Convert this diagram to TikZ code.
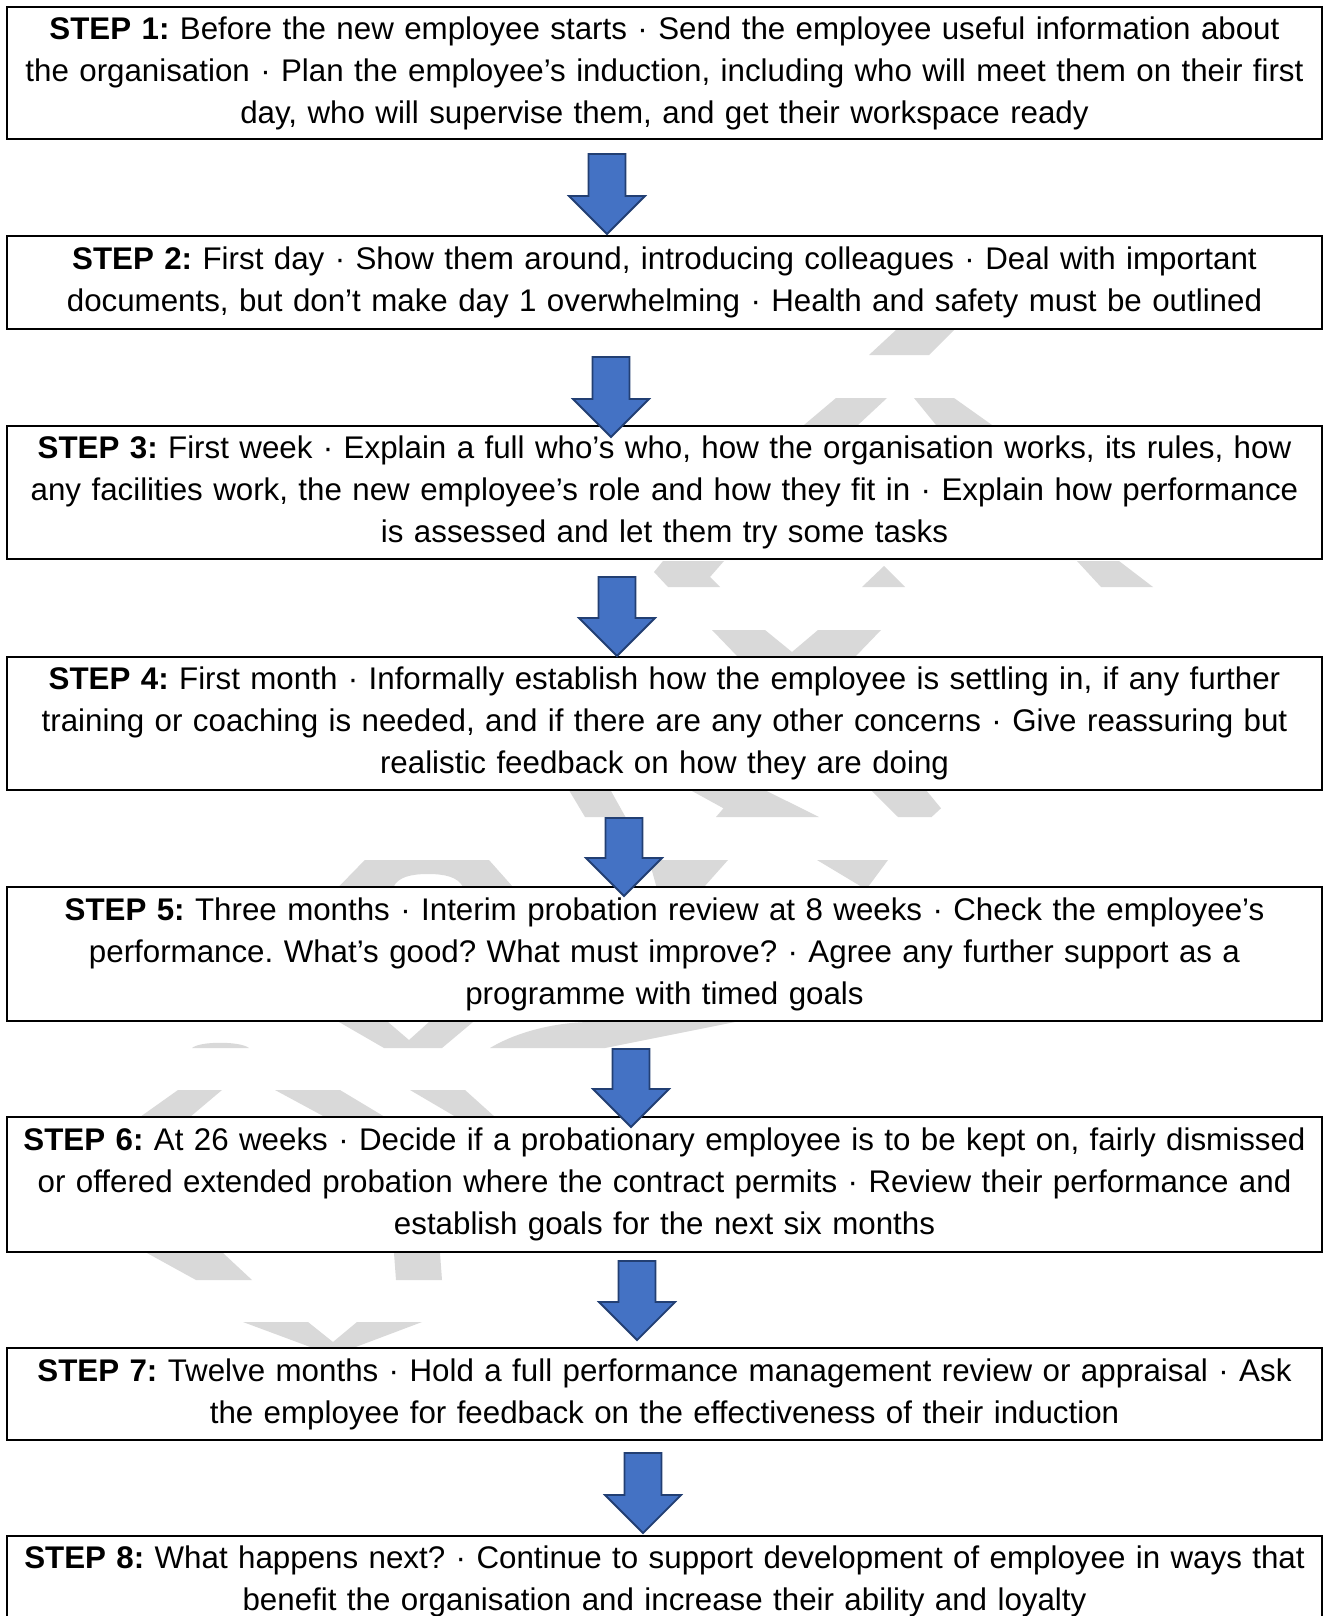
\documentclass[tikz,border=0pt]{standalone}
\usepackage{fontspec}
\setmainfont{Liberation Sans}
\frenchspacing
\definecolor{wm}{HTML}{D9D9D9}
\definecolor{arrfill}{HTML}{4472C4}
\definecolor{arredge}{HTML}{223F73}
\newcommand\mydnarrow[4]{% name, centre x, top y, tip y
  \coordinate (#1) at (#2,#3);
  \draw[blockarr] (#2-18.5,#3) -- (#2+18.5,#3) -- (#2+18.5,#4-38) -- (#2+38,#4-38)
    -- (#2,#4) -- (#2-38,#4-38) -- (#2-18.5,#4-38) -- cycle;}
\begin{document}
\begin{tikzpicture}[x=1pt,y=-1pt,
  stepbox/.style={draw=black, line width=2pt, fill=white, minimum width=1315pt,
    text width=1310pt, align=center, inner sep=0pt, font=\fontsize{31.3}{42}\selectfont\frenchspacing},
  blockarr/.style={fill=arrfill, draw=arredge, line width=1.8pt, line join=miter},
  wmark/.style={fill=wm, draw=none}]
\useasboundingbox (0,0) rectangle (1325,1616);
\clip (0,0) rectangle (1325,1616);
\fill[white] (0,0) rectangle (1325,1616);
% watermark fragments
\fill[wmark] (896,330) -- (954,330) -- (929,355) -- (869,355) -- cycle;
\fill[wmark] (836,398) -- (887,398) -- (858,425) -- (804,425) -- cycle;
\fill[wmark] (914,398) -- (954,398) -- (992,425) -- (936,425) -- cycle;
\fill[wmark] (654,572) -- (663,561) -- (724,561) -- (710,577) -- (720,587) -- (668,587) -- cycle;
\fill[wmark] (884,566) -- (905,587) -- (862,587) -- cycle;
\fill[wmark] (1077,561) -- (1119,561) -- (1153,587) -- (1101,587) -- cycle;
\fill[wmark] (712,630) -- (765,630) -- (792,652) -- (818,630) -- (881,630) -- (855,657) -- (738,657) -- cycle;
\fill[wmark] (569.5,791) -- (611,791) -- (625.5,817) -- (585,817) -- cycle;
\fill[wmark] (692,791) -- (766.6,791) -- (819,817) -- (716,817) -- (723.5,808.3) -- cycle;
\fill[wmark] (871.8,791) -- (926.8,791) -- (941,808.3) -- (931.6,817) -- (898,817) -- cycle;
\fill[wmark] (338.5,887) -- (364.8,860) -- (489,860) -- (513,887) -- (463,887)
  .. controls (458,877) and (445,874) .. (428,874) .. controls (411,874) and (398,877) .. (393.5,887) -- cycle;
\fill[wmark] (649,860) -- (728,860) -- (704,887) -- (656.5,887) -- cycle;
\fill[wmark] (817,860) -- (888,860) -- (868,887) -- (862,887) -- cycle;
\fill[wmark] (192,1048) .. controls (200,1041) and (240,1041) .. (249,1048) -- cycle;
\fill[wmark] (339,1022) -- (388,1022) -- (409,1040) -- (429,1022) -- (473,1022) -- (442,1048) -- (384,1048) -- cycle;
\fill[wmark] (490,1048) .. controls (520,1030) and (560,1022) .. (592,1022) -- (735,1022) -- (605,1048) -- cycle;
\fill[wmark] (178,1090) -- (222,1090) -- (190,1117) -- (140,1117) -- cycle;
\fill[wmark] (275,1090) -- (340,1090) -- (385,1117) -- (325,1117) -- cycle;
\fill[wmark] (410,1090) -- (465,1090) -- (495,1117) -- (456,1117) -- cycle;
\fill[wmark] (147,1253) -- (223,1253) -- (252,1280) -- (196,1280) -- cycle;
\fill[wmark] (394,1253) -- (440,1253) -- (442,1280) -- (396,1280) -- cycle;
\fill[wmark] (243,1322) -- (308,1322) -- (333,1342) -- (357,1322) -- (422,1322) -- (353,1348) -- (313,1348) -- cycle;
% boxes
\node[stepbox, minimum height=132pt] (s1) at (664.5,73) {\strut\textbf{STEP 1:} Before the new employee starts · Send the employee useful information about\\
the organisation · Plan the employee’s induction, including who will meet them on their first\\
day, who will supervise them, and get their workspace ready\strut};
\node[stepbox, minimum height=93pt] (s2) at (664.5,282.5) {\strut\textbf{STEP 2:} First day · Show them around, introducing colleagues · Deal with important\\
documents, but don’t make day 1 overwhelming · Health and safety must be outlined\strut};
\node[stepbox, minimum height=133pt] (s3) at (664.5,492.5) {\strut\textbf{STEP 3:} First week · Explain a full who’s who, how the organisation works, its rules, how\\
any facilities work, the new employee’s role and how they fit in · Explain how performance\\
is assessed and let them try some tasks\strut};
\node[stepbox, minimum height=133pt] (s4) at (664.5,723.5) {\strut\textbf{STEP 4:} First month · Informally establish how the employee is settling in, if any further\\
training or coaching is needed, and if there are any other concerns · Give reassuring but\\
realistic feedback on how they are doing\strut};
\node[stepbox, minimum height=134pt] (s5) at (664.5,954) {\strut\textbf{STEP 5:} Three months · Interim probation review at 8 weeks · Check the employee’s\\
performance. What’s good? What must improve? · Agree any further support as a\\
programme with timed goals\strut};
\node[stepbox, minimum height=135pt] (s6) at (664.5,1184.5) {\strut\textbf{STEP 6:} At 26 weeks · Decide if a probationary employee is to be kept on, fairly dismissed\\
or offered extended probation where the contract permits · Review their performance and\\
establish goals for the next six months\strut};
\node[stepbox, minimum height=92pt] (s7) at (664.5,1394) {\strut\textbf{STEP 7:} Twelve months · Hold a full performance management review or appraisal · Ask\\
the employee for feedback on the effectiveness of their induction\strut};
\node[stepbox, minimum height=90pt] (s8) at (664.5,1581) {\strut\textbf{STEP 8:} What happens next? · Continue to support development of employee in ways that\\
benefit the organisation and increase their ability and loyalty\strut};
% arrows
\mydnarrow{a1}{607}{154}{234}
\mydnarrow{a2}{611}{357}{437}
\mydnarrow{a3}{617}{577}{656}
\mydnarrow{a4}{624}{818}{896}
\mydnarrow{a5}{631}{1049}{1127}
\mydnarrow{a6}{637}{1261}{1340}
\mydnarrow{a7}{643}{1453}{1533}
\end{tikzpicture}
\end{document}
